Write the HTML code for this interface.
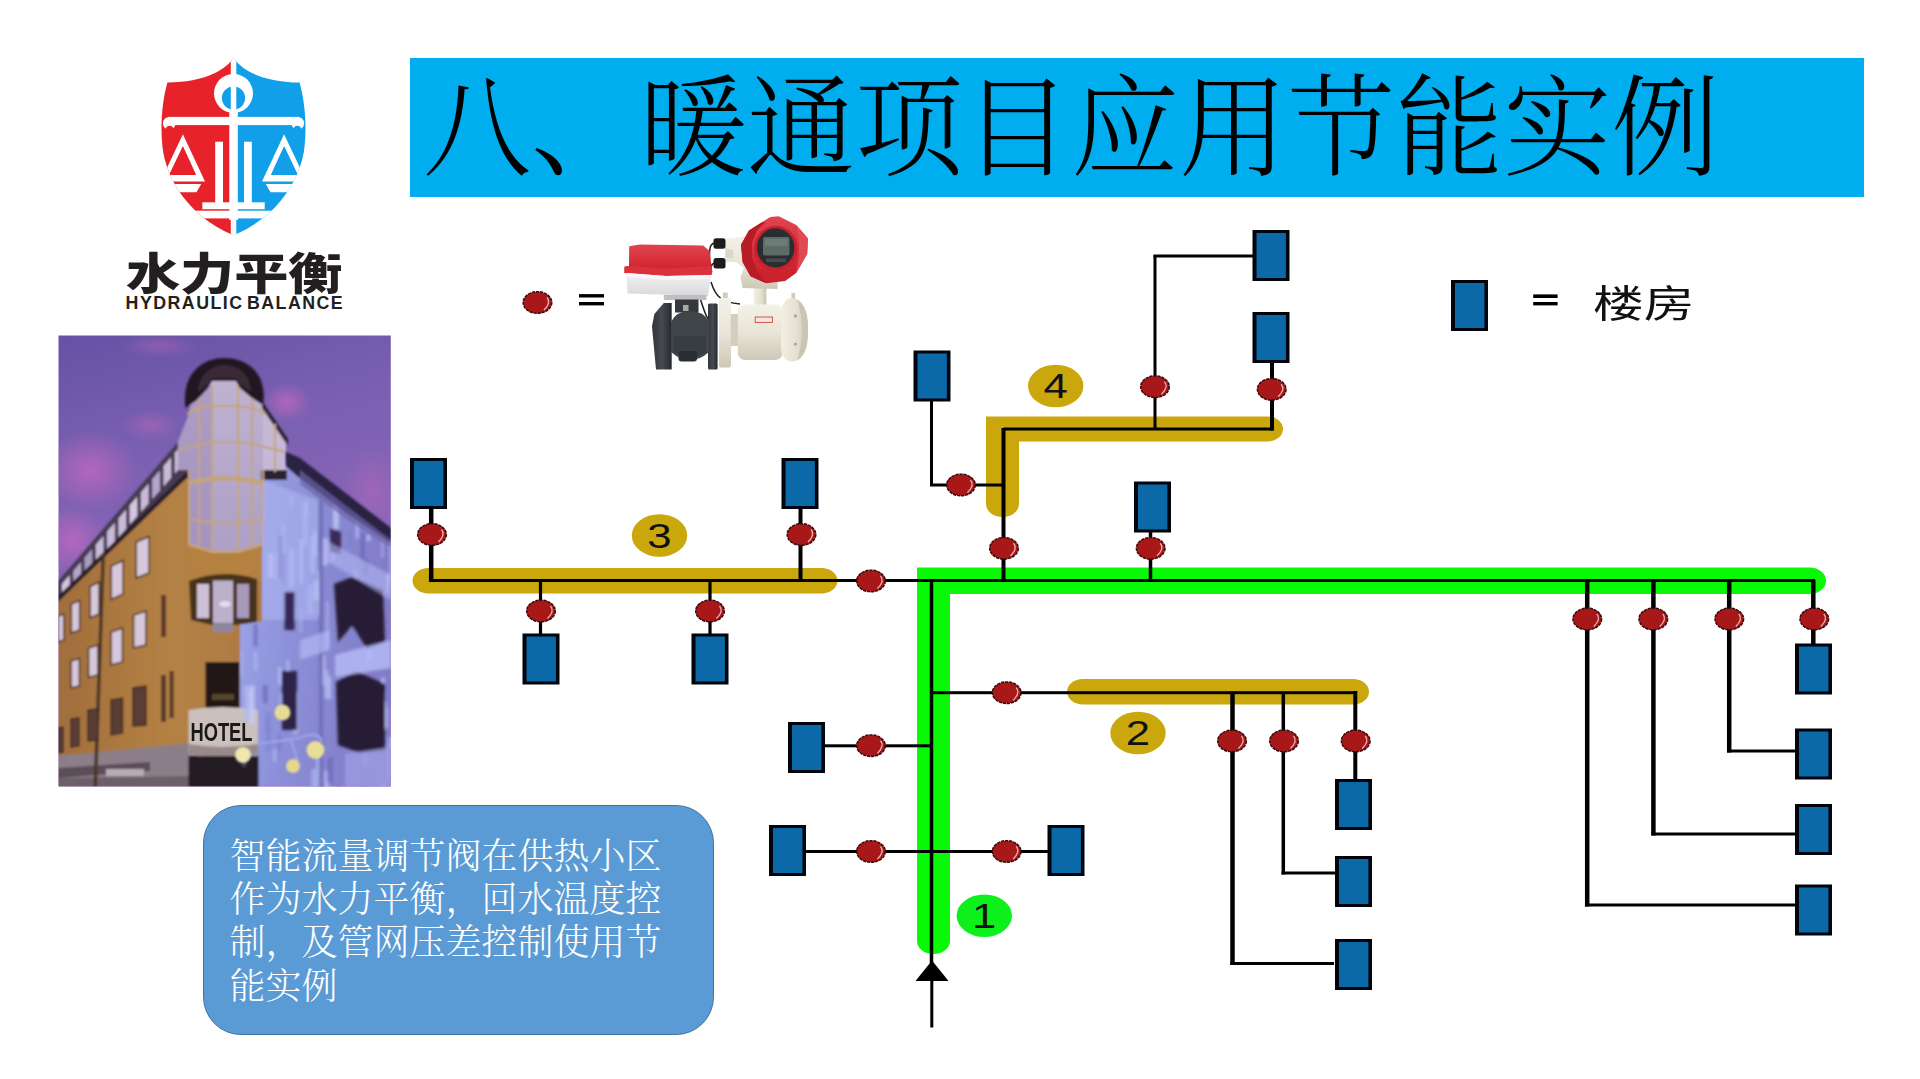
<!DOCTYPE html>
<html lang="zh-CN">
<head>
<meta charset="utf-8">
<title>八、暖通项目应用节能实例</title>
<style>
html,body{margin:0;padding:0;background:#fff;}
body{width:1920px;height:1079px;position:relative;overflow:hidden;font-family:"Liberation Sans","Noto Sans CJK SC",sans-serif;}
#titlebar{position:absolute;left:410px;top:58px;width:1453.6px;height:139.4px;background:#00aeef;}
#title{position:absolute;left:422.7px;top:54.6px;height:150px;line-height:150px;white-space:nowrap;font-family:"Liberation Serif","Noto Serif CJK SC",serif;font-weight:300;font-size:110px;color:#000;transform-origin:0 50%;transform:scaleX(0.982);letter-spacing:0px;}
#note{position:absolute;left:202.6px;top:805px;width:509.4px;height:228.2px;border:1px solid #44739f;border-radius:38px;background:#5b9bd5;}
#notetext{position:absolute;left:229.5px;top:835.6px;width:480px;font-family:"Liberation Serif","Noto Serif CJK SC",serif;font-weight:300;font-size:36px;line-height:43.4px;color:#fff;white-space:nowrap;}
#legend{position:absolute;left:1593px;top:278px;font-size:38px;line-height:52px;font-family:"Liberation Sans","Noto Sans CJK SC",sans-serif;color:#111;transform-origin:0 50%;transform:scaleX(1.335);white-space:nowrap;}
#logocn{position:absolute;left:125.7px;top:242.6px;font-family:"Liberation Sans","Noto Sans CJK SC",sans-serif;font-weight:900;font-size:44px;line-height:64px;color:#231f20;transform-origin:0 50%;transform:scaleX(1.23);white-space:nowrap;}
#logoen{position:absolute;left:125.6px;top:293.2px;font-family:"Liberation Sans",sans-serif;font-weight:bold;font-size:17.8px;line-height:20px;color:#231f20;white-space:nowrap;letter-spacing:1.47px;word-spacing:-3px;}
svg{position:absolute;left:0;top:0;}
</style>
</head>
<body>
<div id="titlebar"></div>
<div id="title">八、暖通项目应用节能实例</div>
<div id="note"></div>
<div id="notetext">智能流量调节阀在供热小区<br>作为水力平衡，回水温度控<br>制，及管网压差控制使用节<br>能实例</div>
<div id="legend">楼房</div>
<div id="logocn">水力平衡</div>
<div id="logoen">HYDRAULIC BALANCE</div>
<svg width="1920" height="1079" viewBox="0 0 1920 1079">
<g id="logo">
<defs><clipPath id="shieldclip"><path d="M233.5 57.5 C226 70 205 82 167.4 82.6 C162.5 100 159.8 125 162.6 148 C166 175 185 215 233.5 235.3 C282 215 301 175 304.4 148 C307.2 125 304.5 100 299.6 82.6 C262 82 241 70 233.5 57.5 Z"/></clipPath></defs>
<g clip-path="url(#shieldclip)">
<rect x="150" y="50" width="83.5" height="200" fill="#e8222a"/>
<rect x="233.5" y="50" width="90" height="200" fill="#119fe9"/>
<g fill="#fff">
<rect x="230.8" y="50" width="5.5" height="200"/>
<rect x="229.3" y="108" width="8.5" height="112"/>
<circle cx="233.5" cy="93.4" r="19.5"/>
<rect x="168" y="116.9" width="131" height="8.2"/>
<circle cx="169.2" cy="123.2" r="6.3"/><circle cx="297.8" cy="123.2" r="6.3"/>
<path fill-rule="evenodd" d="M182.9 134.2 L160.5 181.6 L205 181.6 Z M182.9 146.1 L169 175 L196.2 175 Z"/>
<path fill-rule="evenodd" d="M284.1 134.2 L306.5 181.6 L262 181.6 Z M284.1 146.1 L298 175 L270.8 175 Z"/>
<polygon points="159.5,184 201.2,184 196.5,192.3 159.5,192.3"/>
<polygon points="307.5,184 265.8,184 270.5,192.3 307.5,192.3"/>
<rect x="215.2" y="141.7" width="7.8" height="62"/>
<rect x="244" y="141.7" width="7.8" height="62"/>
<rect x="202.3" y="202.3" width="62.4" height="6.9"/>
<rect x="150" y="210.7" width="170" height="7.7"/>
</g>
<circle cx="169.6" cy="129.5" r="3.7" fill="#e8222a"/><circle cx="297.4" cy="129.5" r="3.7" fill="#119fe9"/>
<circle cx="233.5" cy="98" r="11.6" fill="#119fe9"/>
<rect x="230.8" y="80" width="5.5" height="40" fill="#fff"/>
</g>
</g>

<g id="hotel">
<defs>
<clipPath id="hclip"><rect x="58.5" y="335.5" width="332.3" height="451"/></clipPath>
<clipPath id="iceclip"><polygon points="263,479 286,476 286,462 391,541 391,787 238,787 238,622 261,622"/></clipPath>
<linearGradient id="hsky" x1="0" y1="0" x2="0.2" y2="1"><stop offset="0" stop-color="#6552a4"/><stop offset="0.3" stop-color="#7b60b2"/><stop offset="0.65" stop-color="#8b66b8"/><stop offset="1" stop-color="#9a6cb8"/></linearGradient>
<radialGradient id="hpink"><stop offset="0" stop-color="#c068be" stop-opacity="0.8"/><stop offset="1" stop-color="#c068be" stop-opacity="0"/></radialGradient>
<linearGradient id="hwall" x1="0" y1="0" x2="1" y2="0"><stop offset="0" stop-color="#a16e3c"/><stop offset="0.55" stop-color="#b48145"/><stop offset="1" stop-color="#ac7a43"/></linearGradient>
<linearGradient id="hice" x1="0" y1="0" x2="1" y2="0.25"><stop offset="0" stop-color="#a0a7ea"/><stop offset="0.45" stop-color="#8c90d8"/><stop offset="1" stop-color="#837cc8"/></linearGradient>
<linearGradient id="hglass" x1="0" y1="0" x2="0" y2="1"><stop offset="0" stop-color="#c0b2d0"/><stop offset="1" stop-color="#ad9fc6"/></linearGradient>
<filter id="hblur" x="-2%" y="-2%" width="104%" height="104%"><feGaussianBlur stdDeviation="0.8"/></filter>
<filter id="hblur2" x="-20%" y="-20%" width="140%" height="140%"><feGaussianBlur stdDeviation="1.8"/></filter>
</defs>
<g clip-path="url(#hclip)">
<rect x="58" y="335" width="334" height="452" fill="url(#hsky)"/>
<ellipse cx="90" cy="470" rx="48" ry="40" fill="url(#hpink)"/>
<ellipse cx="72" cy="540" rx="36" ry="34" fill="url(#hpink)"/>
<ellipse cx="150" cy="425" rx="30" ry="16" fill="url(#hpink)" opacity="0.6"/>
<ellipse cx="287" cy="402" rx="24" ry="20" fill="url(#hpink)" opacity="0.95"/>
<ellipse cx="160" cy="346" rx="40" ry="12" fill="url(#hpink)" opacity="0.5"/>
<ellipse cx="372" cy="490" rx="30" ry="44" fill="url(#hpink)" opacity="0.55"/>
<g filter="url(#hblur)">
<polygon points="263,479 286,476 286,462 391,541 391,787 238,787 238,622 261,622" fill="url(#hice)"/>
<polygon points="58,581 69.5,568 178,442 188.6,430 188.6,476 58,599" fill="#463a52"/>
<polygon points="62.0,584.0 69.7,575.1 69.7,592.3 62.0,601.0" fill="#d4c8e0"/>
<polygon points="73.3,570.9 81.0,562.0 81.0,579.6 73.3,588.3" fill="#b4a6ca"/>
<polygon points="84.5,557.8 92.2,548.9 92.2,566.9 84.5,575.5" fill="#a99bc0"/>
<polygon points="95.8,544.7 103.5,535.8 103.5,554.1 95.8,562.8" fill="#c9bbd8"/>
<polygon points="107.1,531.6 114.8,522.7 114.8,541.4 107.1,550.1" fill="#c9bbd8"/>
<polygon points="118.4,518.5 126.1,509.6 126.1,528.7 118.4,537.4" fill="#c9bbd8"/>
<polygon points="129.6,505.5 137.3,496.5 137.3,516.0 129.6,524.6" fill="#d4c8e0"/>
<polygon points="140.9,492.4 148.6,483.4 148.6,503.2 140.9,511.9" fill="#c9bbd8"/>
<polygon points="152.2,479.3 159.9,470.3 159.9,490.5 152.2,499.2" fill="#b4a6ca"/>
<polygon points="163.5,466.2 171.1,457.3 171.1,477.8 163.5,486.5" fill="#c9bbd8"/>
<polygon points="174.7,453.1 182.4,444.2 182.4,465.0 174.7,473.7" fill="#c9bbd8"/>
<polygon points="58,599 186.3,475.5 189,475.5 189,545 262,545 262,622 240,622 240,752 58,762" fill="url(#hwall)"/>
<polygon points="58,596 186.3,472.5 189,474 189,478 186.3,478.5 58,602" fill="#2a1e26"/>
<polygon points="58,756 190,743 190,787 58,787" fill="#8c7e88"/>
<polygon points="58,768 150,762 150,771 58,778" fill="#5c4e58"/>
<rect x="106" y="769" width="38" height="7" fill="#b8acb2"/>
<polygon points="58,778 190,776 190,787 58,787" fill="#6c6068"/>
<polygon points="101.5,556 105,553 97,787 93.5,787" fill="#4a3528"/>
<polygon points="188.6,415 192,398 200,384 212,380 236,380 250,384 260,396 263,405 286,441 286,472 263,472 263,545 240,552 210,552 189,545 189,470 178,470 178,442" fill="url(#hglass)"/>
<polygon points="188.6,415 192,398 200,386 211,385 211,552 189,545 189,470 178,470 178,442" fill="#9c8bbc" opacity="0.55"/>
<polygon points="263,405 286,441 286,472 263,472" fill="#c9bcd8" opacity="0.8"/>
<polygon points="261,470 287,470 287,480 261,480" fill="#2a2030"/>
<polygon points="262,401 288,439 288,446 262,408" fill="#2a2030"/>
<path d="M185.5 408 C181 372 204 358 224.3 358 C246 358 268 372 263 405 L252 398 L240 388 L236 381 L212 381 L208 388 L197 400 Z" fill="#241820"/>
<path d="M198 392 C199 374 212 365 224 365 C238 365 250 374 251 392 L240 384 L236 378 L212 378 L208 384 Z" fill="#3a2c34"/>
<g stroke="#c4a478" stroke-width="2" fill="none">
<path d="M212 386 V552 M238 386 V552 M199 398 V548 M252 398 V548 M189 470 V545 M263 470 V545 M275 424 V472"/>
<path d="M179 450 L199 444 L212 442 H238 L252 444 L286 452"/>
<path d="M187 414 L199 408 L212 406 H238 L252 408 L266 414"/>
<path d="M189 483 L212 478.5 H238 L263 483" stroke-width="4.5"/>
<path d="M189 519 L212 523 H238 L263 519"/>
<path d="M189 545 L212 552 H238 L263 545" stroke-width="3"/>
</g>
<polygon points="189,546 212,553 238,553 262,546 262,581 189,581" fill="#b4813f"/>
<path d="M189 581 Q222 568 257 579 L257 622 L236 625 L212 625 L191 620 Z" fill="#46301f"/>
<rect x="197" y="584" width="12" height="34" fill="#cdbfd4"/><rect x="213" y="580.5" width="20" height="43" fill="#bcb0ca"/><rect x="237" y="584" width="12" height="34" fill="#a999ba"/><rect x="213" y="624" width="20" height="8" fill="#8f86a0"/>
<ellipse cx="225" cy="604" rx="6" ry="3" fill="#efe6f2" opacity="0.8"/>
<rect x="205.5" y="662" width="34" height="46" fill="#241618"/>
<rect x="212" y="694" width="22" height="6" fill="#6a5a30" opacity="0.7"/>
<path d="M188.5 710 Q222 704 258 710 L258 754 Q222 760 188.5 754 Z" fill="#cbc0bb"/>
<path d="M188.5 744 Q222 750 258 744 L258 754 Q222 760 188.5 754 Z" fill="#978a88"/>
<rect x="188.5" y="756" width="70" height="31" fill="#231b20"/>
<g fill="#d6c7da" stroke="#4a3326" stroke-width="1.6">
<polygon points="71.3,604 79.7,600.4 79.7,630 71.3,633"/>
<polygon points="71,661 79.5,658.5 79.5,686 71,688"/>
<polygon points="90,586.5 99.2,582 99.2,614 90,618"/>
<polygon points="88.5,648 98,645 98,675 88.5,677.5"/>
<polygon points="111.2,566 123.2,560.5 123.2,594 111.2,599.4"/>
<polygon points="111,632 122.5,628 122.5,662 111,665"/>
<polygon points="136.2,542 149.2,536.4 149.2,573 136.2,578"/>
<polygon points="133.5,615 146,611 146,645 133.5,648"/>
<polygon points="58,616 64,614 64,640 58,642"/>
</g>
<g fill="#5a3c36" stroke="#3e2920" stroke-width="1.4">
<polygon points="71,719 79,718 79,746 71,747"/>
<polygon points="88,710 98,709 98,740 88,741"/>
<polygon points="111,700 122.5,698 122.5,733 111,735"/>
<polygon points="133,688 146,686 146,725 133,726"/>
<polygon points="58,728 63,727 63,752 58,753"/>
</g>
<g fill="#5b3a2c"><rect x="161.2" y="595" width="4.8" height="42"/><rect x="161" y="675" width="5" height="47"/><rect x="169.5" y="671" width="4.2" height="47"/></g>
</g>
<g clip-path="url(#iceclip)"><g filter="url(#hblur2)">
<rect x="304.3" y="501.4" width="3.7" height="13.3" fill="#b0b8f2" opacity="0.75"/>
<rect x="324.5" y="770.9" width="4.3" height="32.7" fill="#b9c2f6" opacity="0.75"/>
<rect x="326.3" y="601.8" width="2.2" height="45.1" fill="#b0b8f2" opacity="0.75"/>
<rect x="320.7" y="655.3" width="4.7" height="30.2" fill="#b9c2f6" opacity="0.75"/>
<rect x="327.0" y="676.1" width="4.2" height="23.4" fill="#b9c2f6" opacity="0.75"/>
<rect x="324.3" y="670.0" width="4.1" height="27.9" fill="#b0b8f2" opacity="0.75"/>
<rect x="286.1" y="659.8" width="3.2" height="26.3" fill="#b0b8f2" opacity="0.75"/>
<rect x="265.5" y="719.4" width="3.2" height="12.9" fill="#7a7cc8" opacity="0.75"/>
<rect x="371.9" y="703.9" width="5.9" height="20.4" fill="#b9c2f6" opacity="0.75"/>
<rect x="316.3" y="530.6" width="5.7" height="22.3" fill="#7a7cc8" opacity="0.75"/>
<rect x="244.0" y="685.1" width="4.3" height="37.5" fill="#b0b8f2" opacity="0.75"/>
<rect x="286.0" y="693.5" width="4.3" height="31.4" fill="#7a7cc8" opacity="0.75"/>
<rect x="279.3" y="694.0" width="4.9" height="12.3" fill="#aab2ee" opacity="0.75"/>
<rect x="337.0" y="784.9" width="3.1" height="39.6" fill="#7a7cc8" opacity="0.75"/>
<rect x="373.7" y="586.5" width="3.4" height="43.9" fill="#6c6abc" opacity="0.75"/>
<rect x="355.5" y="519.7" width="3.6" height="18.9" fill="#b0b8f2" opacity="0.75"/>
<rect x="314.0" y="531.1" width="3.1" height="24.5" fill="#c4ccfa" opacity="0.75"/>
<rect x="363.3" y="745.2" width="3.7" height="20.0" fill="#aab2ee" opacity="0.75"/>
<rect x="342.5" y="596.8" width="2.3" height="18.3" fill="#c4ccfa" opacity="0.75"/>
<rect x="273.5" y="551.6" width="4.4" height="27.5" fill="#aab2ee" opacity="0.75"/>
<rect x="281.1" y="524.7" width="4.4" height="29.2" fill="#aab2ee" opacity="0.75"/>
<rect x="383.8" y="692.0" width="4.5" height="28.6" fill="#8086d0" opacity="0.75"/>
<rect x="351.2" y="620.2" width="5.8" height="41.4" fill="#8086d0" opacity="0.75"/>
<rect x="360.1" y="600.5" width="2.4" height="24.4" fill="#8086d0" opacity="0.75"/>
<rect x="299.3" y="538.5" width="3.8" height="45.4" fill="#b9c2f6" opacity="0.75"/>
<rect x="290.0" y="496.1" width="2.6" height="10.0" fill="#b9c2f6" opacity="0.75"/>
<rect x="383.2" y="668.4" width="2.8" height="12.5" fill="#7a7cc8" opacity="0.75"/>
<rect x="291.2" y="591.8" width="5.4" height="14.4" fill="#7a7cc8" opacity="0.75"/>
<rect x="311.5" y="575.7" width="5.0" height="15.2" fill="#8086d0" opacity="0.75"/>
<rect x="278.5" y="734.5" width="2.1" height="15.8" fill="#6c6abc" opacity="0.75"/>
<rect x="293.3" y="691.9" width="5.0" height="42.9" fill="#aab2ee" opacity="0.75"/>
<rect x="387.7" y="745.0" width="3.0" height="35.1" fill="#aab2ee" opacity="0.75"/>
<rect x="377.0" y="589.2" width="4.2" height="18.0" fill="#6c6abc" opacity="0.75"/>
<rect x="288.4" y="548.5" width="5.9" height="39.2" fill="#b0b8f2" opacity="0.75"/>
<rect x="267.9" y="553.5" width="5.2" height="24.4" fill="#c4ccfa" opacity="0.75"/>
<rect x="317.2" y="589.2" width="2.1" height="11.0" fill="#aab2ee" opacity="0.75"/>
<rect x="310.3" y="539.4" width="3.4" height="31.8" fill="#b0b8f2" opacity="0.75"/>
<rect x="381.4" y="783.3" width="3.5" height="44.4" fill="#c4ccfa" opacity="0.75"/>
<rect x="253.6" y="624.3" width="3.9" height="22.2" fill="#6c6abc" opacity="0.75"/>
<rect x="366.6" y="627.2" width="5.2" height="33.5" fill="#b9c2f6" opacity="0.75"/>
<rect x="365.7" y="516.8" width="4.8" height="24.0" fill="#c4ccfa" opacity="0.75"/>
<rect x="311.1" y="534.8" width="3.3" height="38.4" fill="#b0b8f2" opacity="0.75"/>
<rect x="382.8" y="701.6" width="5.0" height="26.7" fill="#b9c2f6" opacity="0.75"/>
<rect x="348.9" y="532.2" width="2.6" height="14.6" fill="#7a7cc8" opacity="0.75"/>
<rect x="361.4" y="524.9" width="5.9" height="39.8" fill="#8086d0" opacity="0.75"/>
<rect x="381.4" y="527.9" width="2.1" height="29.7" fill="#b0b8f2" opacity="0.75"/>
<rect x="386.5" y="679.5" width="5.7" height="29.0" fill="#7a7cc8" opacity="0.75"/>
<rect x="388.9" y="539.8" width="2.1" height="41.5" fill="#c4ccfa" opacity="0.75"/>
<rect x="282.8" y="553.8" width="3.0" height="31.1" fill="#7a7cc8" opacity="0.75"/>
<rect x="365.6" y="498.7" width="5.6" height="36.6" fill="#8086d0" opacity="0.75"/>
<rect x="327.3" y="757.6" width="5.7" height="25.1" fill="#6c6abc" opacity="0.75"/>
<rect x="316.1" y="748.0" width="4.4" height="38.0" fill="#b0b8f2" opacity="0.75"/>
<rect x="360.3" y="532.9" width="4.9" height="27.0" fill="#6c6abc" opacity="0.75"/>
<rect x="247.4" y="689.5" width="3.9" height="29.1" fill="#b0b8f2" opacity="0.75"/>
<rect x="254.2" y="652.0" width="3.1" height="18.9" fill="#b0b8f2" opacity="0.75"/>
<rect x="242.3" y="754.5" width="3.3" height="12.3" fill="#6c6abc" opacity="0.75"/>
<rect x="330.7" y="541.2" width="4.0" height="20.0" fill="#b0b8f2" opacity="0.75"/>
<rect x="311.1" y="769.0" width="5.5" height="35.2" fill="#aab2ee" opacity="0.75"/>
<rect x="379.2" y="754.1" width="3.8" height="17.3" fill="#7a7cc8" opacity="0.75"/>
<rect x="249.2" y="685.5" width="5.6" height="38.2" fill="#c4ccfa" opacity="0.75"/>
<rect x="381.7" y="677.5" width="3.0" height="23.2" fill="#c4ccfa" opacity="0.75"/>
<rect x="386.0" y="547.4" width="3.6" height="44.3" fill="#7a7cc8" opacity="0.75"/>
<rect x="262.9" y="685.0" width="4.8" height="18.1" fill="#6c6abc" opacity="0.75"/>
<rect x="299.8" y="609.3" width="2.4" height="22.8" fill="#aab2ee" opacity="0.75"/>
<rect x="241.0" y="650.1" width="2.1" height="25.9" fill="#aab2ee" opacity="0.75"/>
<rect x="317.2" y="570.7" width="2.5" height="44.6" fill="#b0b8f2" opacity="0.75"/>
<rect x="273.0" y="749.1" width="3.1" height="13.0" fill="#b0b8f2" opacity="0.75"/>
<rect x="265.8" y="712.0" width="5.4" height="39.5" fill="#8086d0" opacity="0.75"/>
<rect x="363.3" y="559.4" width="5.7" height="15.4" fill="#6c6abc" opacity="0.75"/>
<rect x="313.7" y="580.4" width="5.2" height="20.0" fill="#c4ccfa" opacity="0.75"/>
<rect x="303.1" y="502.2" width="4.5" height="43.8" fill="#b0b8f2" opacity="0.75"/>
<rect x="277.9" y="666.7" width="3.1" height="18.0" fill="#b9c2f6" opacity="0.75"/>
<rect x="307.4" y="584.1" width="5.7" height="29.9" fill="#aab2ee" opacity="0.75"/>
<rect x="333.1" y="493.3" width="5.8" height="35.5" fill="#c4ccfa" opacity="0.75"/>
<rect x="278.1" y="535.6" width="4.5" height="43.6" fill="#6c6abc" opacity="0.75"/>
<rect x="354.2" y="569.0" width="2.7" height="28.0" fill="#aab2ee" opacity="0.75"/>
<rect x="361.0" y="785.3" width="2.1" height="11.3" fill="#6c6abc" opacity="0.75"/>
<rect x="322.3" y="538.2" width="5.7" height="27.1" fill="#b9c2f6" opacity="0.75"/>
<rect x="338.7" y="679.6" width="4.2" height="33.6" fill="#7a7cc8" opacity="0.75"/>
<rect x="386.5" y="574.5" width="2.9" height="17.7" fill="#c4ccfa" opacity="0.75"/>
<rect x="365.3" y="697.0" width="3.6" height="32.9" fill="#aab2ee" opacity="0.75"/>
<rect x="388.2" y="737.0" width="4.5" height="10.5" fill="#aab2ee" opacity="0.75"/>
<path d="M262 480 L318 500 L318 620 L262 620 Z" fill="#aeb6f2" opacity="0.55"/>
<rect x="319" y="500" width="4" height="287" fill="#6a68b4" opacity="0.8"/>
<path d="M330 528 L341 532 L341 554 L330 552 Z" fill="#3a2c58"/>
<path d="M334 584 L352 577 L383 590 L385 642 L368 650 L352 626 L338 642 Z" fill="#261a36"/>
<path d="M336 682 L356 671 L385 684 L385 751 L360 753 L338 745 Z" fill="#261a36"/>
<rect x="284.5" y="592" width="10" height="38" fill="#352852"/>
<rect x="282" y="671" width="15" height="59" fill="#2e2248"/>
<path d="M335 655 L391 640 L391 668 L335 677 Z" fill="#b4b8f4" opacity="0.85"/>
<path d="M300 640 L330 630 L330 650 L300 660 Z" fill="#b4b8f4" opacity="0.7"/>
<path d="M325 560 L391 600 L391 575 L325 540 Z" fill="#b0b6f2" opacity="0.6"/>
<path d="M345 754 L391 747 L391 787 L345 787 Z" fill="#9c9ce2" opacity="0.8"/>
</g></g>
<g filter="url(#hblur)"><polygon points="286,452 300,458 391,528 391,543 345,512 300,478 286,466" fill="#2c2242"/>
<polygon points="300,470 345,505 391,540 391,548 345,518 300,484" fill="#6c64a8" opacity="0.7"/></g>
<g filter="url(#hblur)">
<path d="M258 744 L300 738 M290 740 Q300 760 296 772 M300 738 Q318 730 322 742" stroke="#9aa0e4" stroke-width="3" fill="none"/>
<circle cx="282.5" cy="712.5" r="8" fill="#e6dc96"/>
<circle cx="243" cy="755" r="8" fill="#efe6b0"/>
<circle cx="315.5" cy="750" r="9" fill="#e8de98"/>
<circle cx="293" cy="766" r="7" fill="#e4d88e"/>
</g>
<text x="190.5" y="741" font-family="'Liberation Sans',sans-serif" font-weight="bold" font-size="26" fill="#1d1818" textLength="62" lengthAdjust="spacingAndGlyphs">HOTEL</text>
</g>
</g>
<g id="device">
<defs>
<linearGradient id="dvw" x1="0" y1="0" x2="0" y2="1"><stop offset="0" stop-color="#f3f1e8"/><stop offset="0.5" stop-color="#e9e5d7"/><stop offset="1" stop-color="#cdc8b6"/></linearGradient>
<linearGradient id="dvw2" x1="0" y1="0" x2="1" y2="0"><stop offset="0" stop-color="#f1eee3"/><stop offset="0.6" stop-color="#e4e0d0"/><stop offset="1" stop-color="#c9c4b2"/></linearGradient>
<linearGradient id="dvr" x1="0" y1="0" x2="0" y2="1"><stop offset="0" stop-color="#e04550"/><stop offset="0.6" stop-color="#d42a36"/><stop offset="1" stop-color="#c71f2b"/></linearGradient>
<linearGradient id="dvk" x1="0" y1="0" x2="1" y2="0"><stop offset="0" stop-color="#30343a"/><stop offset="0.5" stop-color="#474b52"/><stop offset="1" stop-color="#25282d"/></linearGradient>
<linearGradient id="dvg" x1="0" y1="0" x2="0" y2="1"><stop offset="0" stop-color="#f2f2f4"/><stop offset="1" stop-color="#d9d9dc"/></linearGradient>
<filter id="dvb" x="-5%" y="-5%" width="110%" height="110%"><feGaussianBlur stdDeviation="0.6"/></filter>
</defs>
<g filter="url(#dvb)">
<!-- cables -->
<path d="M714 243 C706 246 712 262 708 268 M714 263 C708 266 712 274 709 280 M711 282 C716 298 722 302 740 304 M700 298 C704 310 706 318 710 322" fill="none" stroke="#1e1e20" stroke-width="1.5"/>
<!-- stem -->
<rect x="753.6" y="284" width="12.8" height="23" fill="url(#dvw2)"/>
<!-- neck housing -->
<polygon points="725.3,238.6 746,236.5 760,240 778,262 777.5,289 742.6,288 740.5,277 744,268 736,262 725.3,262" fill="url(#dvw)"/>
<polygon points="725.3,248 733,250 733,258 725.3,258" fill="#dcd8c8"/>
<!-- glands -->
<rect x="713.5" y="238.2" width="12" height="10.5" rx="2.5" fill="#1c1c1f"/>
<rect x="713.5" y="258" width="12" height="10.5" rx="2.5" fill="#1c1c1f"/>
<!-- display head -->
<polygon points="770.2,217.1 778.8,216.3 796.2,225 802.5,232 808,238.4 807.2,254.1 796.2,273 785.1,280.9 766.2,283.3 750.5,276.2 742.6,262 741,244.7 748.9,230.5 761.5,222.6" fill="url(#dvr)"/>
<polygon points="761.5,222.6 748.9,230.5 741,244.7 742.6,262 750.5,276.2 766.2,283.3 758,272 752,258 752,242 757,230 766,222" fill="#b81c28"/>
<polygon points="796.2,225 808,238.4 807.2,254.1 796.2,273 799,254 799,240" fill="#e2505a" opacity="0.8"/>
<ellipse cx="776" cy="248.2" rx="21.5" ry="22.5" fill="#c6202c"/>
<ellipse cx="775.7" cy="247.8" rx="18.7" ry="19.6" fill="#2a2e32"/>
<rect x="763" y="237" width="26.5" height="18.5" rx="2" fill="#5d6d66"/>
<rect x="765" y="239" width="22.5" height="7" fill="#6f8078" opacity="0.8"/>
<rect x="766" y="258.5" width="20" height="3.6" fill="#454b50"/>
<!-- actuator -->
<polygon points="629.2,246.2 640,244.6 703.2,245.4 709.5,251 711.5,266 712.3,272 711,275.5 666,276.5 624.5,273 624.5,266.7 629,266" fill="url(#dvr)"/>
<polygon points="624.5,266.7 629,266 666,268.5 711.5,266 712.3,272 711,275.5 666,276.5 624.5,273" fill="#d9333e"/>
<polygon points="626,273 666,276 711,275 708,296 627.6,293.5" fill="url(#dvg)"/>
<polygon points="626,273 666,276 711,275 710.5,279 666,280 626.5,277" fill="#f6f6f8"/>
<rect x="663.8" y="295" width="42.6" height="5" fill="#bfbfc3"/>
<!-- valve -->
<rect x="675" y="299.5" width="23.5" height="13" fill="#34373c"/>
<rect x="683" y="305" width="5.5" height="6" fill="#a9a9a2"/>
<polygon points="654.4,314 663.8,303 671.7,303 671.7,369.5 656,369.5 652,326.6" fill="url(#dvk)"/>
<rect x="708" y="303.5" width="9.6" height="66" rx="1.5" fill="url(#dvk)"/>
<path d="M671 322 Q676 311 690 311 Q704 311 709 322 L709 352 Q700 360 690 360 Q680 360 671 352 Z" fill="#41444a"/>
<path d="M674 336 H706 V352 Q690 362 674 352 Z" fill="#393c42"/>
<rect x="678.5" y="351" width="18.5" height="10.5" rx="3" fill="#2b2e33"/>
<!-- flow meter -->
<rect x="722.9" y="292.5" width="4.8" height="7" fill="#cfcbbb"/>
<rect x="719" y="298" width="12" height="69.5" rx="2" fill="url(#dvw)"/>
<rect x="730.8" y="314" width="9" height="32" fill="#d3cebd"/>
<rect x="737.9" y="304.5" width="44.5" height="55.5" rx="7" fill="url(#dvw)"/>
<rect x="755.2" y="317" width="17.3" height="5.4" fill="#f2e6df" stroke="#d2453d" stroke-width="0.9"/>
<rect x="791.5" y="293" width="3.6" height="6" fill="#cfcbbb"/>
<path d="M781 312 Q782 299 792 298 Q803 298 807 316 Q809 330 807 344 Q803 361.5 792 361.5 Q782 361 781 348 Z" fill="url(#dvw2)"/>
<path d="M797 300 Q805 305 807 316 Q809 330 807 344 Q805 356 797 360.5 Q802 345 802 330 Q802 314 797 300 Z" fill="#cbc6b3"/>
<circle cx="795.5" cy="316" r="1.6" fill="#a9a493"/><circle cx="795.5" cy="344" r="1.6" fill="#a9a493"/>
</g>
</g>

<g id="eqs" fill="#000">
<rect x="579" y="294.1" width="25" height="3.4"/><rect x="579" y="302" width="25" height="3.4"/>
<rect x="1533.2" y="294.4" width="24.4" height="3.6"/><rect x="1533.2" y="302" width="24.4" height="3.4"/>
</g>
<g id="diagram">
<rect x="412.5" y="568" width="425" height="25.5" rx="16" ry="12.75" fill="#c9a70d"/>
<rect x="1067" y="679" width="302" height="25.5" rx="16" ry="12.75" fill="#c9a70d"/>
<path d="M986 416.5 H1268 a15 12.5 0 0 1 0 25 H1019 V504 a16.5 13 0 0 1 -33 0 Z" fill="#c9a70d"/>
<path d="M917 567.5 H1810 a16 13.25 0 0 1 0 26.5 H950 V941 a16.5 13 0 0 1 -33 0 Z" fill="#08f808"/>
<rect x="431" y="579.0" width="1384" height="3" fill="#000"/>
<rect x="929.75" y="580.5" width="3.5" height="384.5" fill="#000"/>
<polygon points="932,960.5 948.5,981 915.5,981" fill="#000"/>
<rect x="930.3" y="980" width="3" height="47.5" fill="#000"/>
<rect x="428.95" y="505" width="4.5" height="77" fill="#000"/>
<rect x="798.5" y="505" width="4" height="77" fill="#000"/>
<rect x="538.9" y="580" width="3.2" height="56" fill="#000"/>
<rect x="708.4" y="580" width="3.2" height="56" fill="#000"/>
<rect x="1001.5" y="428" width="4" height="152" fill="#000"/>
<rect x="1003.5" y="427.5" width="270.0" height="3" fill="#000"/>
<rect x="1153.5" y="255" width="3" height="174" fill="#000"/>
<rect x="1153.5" y="254.5" width="100.5" height="3" fill="#000"/>
<rect x="1270.0" y="360" width="4" height="70.5" fill="#000"/>
<rect x="930.0" y="398" width="3" height="87" fill="#000"/>
<rect x="930" y="483.5" width="73.5" height="3" fill="#000"/>
<rect x="1148.75" y="530" width="3.5" height="50" fill="#000"/>
<rect x="931.5" y="691.2" width="425.5" height="3" fill="#000"/>
<rect x="1230.25" y="692" width="4.5" height="272.5" fill="#000"/>
<rect x="1230.3" y="962.0" width="103.70000000000005" height="3" fill="#000"/>
<rect x="1281.55" y="692" width="3.5" height="182.5" fill="#000"/>
<rect x="1281.5" y="871.5" width="54.5" height="3" fill="#000"/>
<rect x="1353.3" y="691" width="4" height="90" fill="#000"/>
<rect x="823" y="744.3" width="108.5" height="3" fill="#000"/>
<rect x="804" y="850.0" width="245" height="3" fill="#000"/>
<rect x="1584.95" y="580" width="4.5" height="326.5" fill="#000"/>
<rect x="1585" y="903.5" width="211" height="3" fill="#000"/>
<rect x="1651.15" y="580" width="4.5" height="255.5" fill="#000"/>
<rect x="1651.4" y="832.5" width="144.5999999999999" height="3" fill="#000"/>
<rect x="1726.95" y="580" width="4.5" height="172.5" fill="#000"/>
<rect x="1727" y="749.5" width="69" height="3" fill="#000"/>
<rect x="1811.05" y="580" width="4.5" height="65" fill="#000"/>
<rect x="410" y="458" width="37" height="51" fill="#00040c"/><rect x="414" y="461" width="29.4" height="45" fill="#0a69a6"/>
<rect x="781.5" y="458" width="37" height="51" fill="#00040c"/><rect x="785.5" y="461" width="29.4" height="45" fill="#0a69a6"/>
<rect x="522.5" y="633.5" width="37" height="51" fill="#00040c"/><rect x="526.5" y="636.5" width="29.4" height="45" fill="#0a69a6"/>
<rect x="691.5" y="633.5" width="37" height="51" fill="#00040c"/><rect x="695.5" y="636.5" width="29.4" height="45" fill="#0a69a6"/>
<rect x="913.5" y="350.5" width="37" height="51" fill="#00040c"/><rect x="917.5" y="353.5" width="29.4" height="45" fill="#0a69a6"/>
<rect x="1252.5" y="230" width="37" height="51" fill="#00040c"/><rect x="1256.5" y="233" width="29.4" height="45" fill="#0a69a6"/>
<rect x="1252.5" y="312" width="37" height="51" fill="#00040c"/><rect x="1256.5" y="315" width="29.4" height="45" fill="#0a69a6"/>
<rect x="1451" y="280" width="37" height="51" fill="#00040c"/><rect x="1455" y="283" width="29.4" height="45" fill="#0a69a6"/>
<rect x="1134" y="481.5" width="37" height="51" fill="#00040c"/><rect x="1138" y="484.5" width="29.4" height="45" fill="#0a69a6"/>
<rect x="788" y="722" width="37" height="51" fill="#00040c"/><rect x="792" y="725" width="29.4" height="45" fill="#0a69a6"/>
<rect x="769" y="825" width="37" height="51" fill="#00040c"/><rect x="773" y="828" width="29.4" height="45" fill="#0a69a6"/>
<rect x="1047.5" y="825" width="37" height="51" fill="#00040c"/><rect x="1051.5" y="828" width="29.4" height="45" fill="#0a69a6"/>
<rect x="1335" y="779" width="37" height="51" fill="#00040c"/><rect x="1339" y="782" width="29.4" height="45" fill="#0a69a6"/>
<rect x="1335" y="856" width="37" height="51" fill="#00040c"/><rect x="1339" y="859" width="29.4" height="45" fill="#0a69a6"/>
<rect x="1335" y="939" width="37" height="51" fill="#00040c"/><rect x="1339" y="942" width="29.4" height="45" fill="#0a69a6"/>
<rect x="1795" y="643.5" width="37" height="51" fill="#00040c"/><rect x="1799" y="646.5" width="29.4" height="45" fill="#0a69a6"/>
<rect x="1795" y="728.5" width="37" height="51" fill="#00040c"/><rect x="1799" y="731.5" width="29.4" height="45" fill="#0a69a6"/>
<rect x="1795" y="804" width="37" height="51" fill="#00040c"/><rect x="1799" y="807" width="29.4" height="45" fill="#0a69a6"/>
<rect x="1795" y="884.5" width="37" height="51" fill="#00040c"/><rect x="1799" y="887.5" width="29.4" height="45" fill="#0a69a6"/>
<ellipse cx="432" cy="534.5" rx="14.3" ry="10.8" fill="#a91818" stroke="#3a0909" stroke-width="1.5" stroke-dasharray="3.2 0.9"/><path d="M441.5 529.5 q4.5 5 -3 12.5" fill="none" stroke="#f2cfcf" stroke-width="1.3" opacity="0.85"/>
<ellipse cx="801.5" cy="534.5" rx="14.3" ry="10.8" fill="#a91818" stroke="#3a0909" stroke-width="1.5" stroke-dasharray="3.2 0.9"/><path d="M811.0 529.5 q4.5 5 -3 12.5" fill="none" stroke="#f2cfcf" stroke-width="1.3" opacity="0.85"/>
<ellipse cx="541" cy="611" rx="14.3" ry="10.8" fill="#a91818" stroke="#3a0909" stroke-width="1.5" stroke-dasharray="3.2 0.9"/><path d="M550.5 606 q4.5 5 -3 12.5" fill="none" stroke="#f2cfcf" stroke-width="1.3" opacity="0.85"/>
<ellipse cx="710" cy="611" rx="14.3" ry="10.8" fill="#a91818" stroke="#3a0909" stroke-width="1.5" stroke-dasharray="3.2 0.9"/><path d="M719.5 606 q4.5 5 -3 12.5" fill="none" stroke="#f2cfcf" stroke-width="1.3" opacity="0.85"/>
<ellipse cx="871" cy="581" rx="14.3" ry="10.8" fill="#a91818" stroke="#3a0909" stroke-width="1.5" stroke-dasharray="3.2 0.9"/><path d="M880.5 576 q4.5 5 -3 12.5" fill="none" stroke="#f2cfcf" stroke-width="1.3" opacity="0.85"/>
<ellipse cx="961" cy="485" rx="14.3" ry="10.8" fill="#a91818" stroke="#3a0909" stroke-width="1.5" stroke-dasharray="3.2 0.9"/><path d="M970.5 480 q4.5 5 -3 12.5" fill="none" stroke="#f2cfcf" stroke-width="1.3" opacity="0.85"/>
<ellipse cx="1004" cy="548.3" rx="14.3" ry="10.8" fill="#a91818" stroke="#3a0909" stroke-width="1.5" stroke-dasharray="3.2 0.9"/><path d="M1013.5 543.3 q4.5 5 -3 12.5" fill="none" stroke="#f2cfcf" stroke-width="1.3" opacity="0.85"/>
<ellipse cx="1150.7" cy="548.3" rx="14.3" ry="10.8" fill="#a91818" stroke="#3a0909" stroke-width="1.5" stroke-dasharray="3.2 0.9"/><path d="M1160.2 543.3 q4.5 5 -3 12.5" fill="none" stroke="#f2cfcf" stroke-width="1.3" opacity="0.85"/>
<ellipse cx="1155" cy="386.7" rx="14.3" ry="10.8" fill="#a91818" stroke="#3a0909" stroke-width="1.5" stroke-dasharray="3.2 0.9"/><path d="M1164.5 381.7 q4.5 5 -3 12.5" fill="none" stroke="#f2cfcf" stroke-width="1.3" opacity="0.85"/>
<ellipse cx="1271.7" cy="389.3" rx="14.3" ry="10.8" fill="#a91818" stroke="#3a0909" stroke-width="1.5" stroke-dasharray="3.2 0.9"/><path d="M1281.2 384.3 q4.5 5 -3 12.5" fill="none" stroke="#f2cfcf" stroke-width="1.3" opacity="0.85"/>
<ellipse cx="1006.7" cy="692.7" rx="14.3" ry="10.8" fill="#a91818" stroke="#3a0909" stroke-width="1.5" stroke-dasharray="3.2 0.9"/><path d="M1016.2 687.7 q4.5 5 -3 12.5" fill="none" stroke="#f2cfcf" stroke-width="1.3" opacity="0.85"/>
<ellipse cx="871" cy="745.7" rx="14.3" ry="10.8" fill="#a91818" stroke="#3a0909" stroke-width="1.5" stroke-dasharray="3.2 0.9"/><path d="M880.5 740.7 q4.5 5 -3 12.5" fill="none" stroke="#f2cfcf" stroke-width="1.3" opacity="0.85"/>
<ellipse cx="871" cy="851.5" rx="14.3" ry="10.8" fill="#a91818" stroke="#3a0909" stroke-width="1.5" stroke-dasharray="3.2 0.9"/><path d="M880.5 846.5 q4.5 5 -3 12.5" fill="none" stroke="#f2cfcf" stroke-width="1.3" opacity="0.85"/>
<ellipse cx="1006.7" cy="851.5" rx="14.3" ry="10.8" fill="#a91818" stroke="#3a0909" stroke-width="1.5" stroke-dasharray="3.2 0.9"/><path d="M1016.2 846.5 q4.5 5 -3 12.5" fill="none" stroke="#f2cfcf" stroke-width="1.3" opacity="0.85"/>
<ellipse cx="1232" cy="741" rx="14.3" ry="10.8" fill="#a91818" stroke="#3a0909" stroke-width="1.5" stroke-dasharray="3.2 0.9"/><path d="M1241.5 736 q4.5 5 -3 12.5" fill="none" stroke="#f2cfcf" stroke-width="1.3" opacity="0.85"/>
<ellipse cx="1284" cy="741" rx="14.3" ry="10.8" fill="#a91818" stroke="#3a0909" stroke-width="1.5" stroke-dasharray="3.2 0.9"/><path d="M1293.5 736 q4.5 5 -3 12.5" fill="none" stroke="#f2cfcf" stroke-width="1.3" opacity="0.85"/>
<ellipse cx="1355.7" cy="741" rx="14.3" ry="10.8" fill="#a91818" stroke="#3a0909" stroke-width="1.5" stroke-dasharray="3.2 0.9"/><path d="M1365.2 736 q4.5 5 -3 12.5" fill="none" stroke="#f2cfcf" stroke-width="1.3" opacity="0.85"/>
<ellipse cx="1587.3" cy="619" rx="14.3" ry="10.8" fill="#a91818" stroke="#3a0909" stroke-width="1.5" stroke-dasharray="3.2 0.9"/><path d="M1596.8 614 q4.5 5 -3 12.5" fill="none" stroke="#f2cfcf" stroke-width="1.3" opacity="0.85"/>
<ellipse cx="1653.3" cy="619" rx="14.3" ry="10.8" fill="#a91818" stroke="#3a0909" stroke-width="1.5" stroke-dasharray="3.2 0.9"/><path d="M1662.8 614 q4.5 5 -3 12.5" fill="none" stroke="#f2cfcf" stroke-width="1.3" opacity="0.85"/>
<ellipse cx="1729.3" cy="619" rx="14.3" ry="10.8" fill="#a91818" stroke="#3a0909" stroke-width="1.5" stroke-dasharray="3.2 0.9"/><path d="M1738.8 614 q4.5 5 -3 12.5" fill="none" stroke="#f2cfcf" stroke-width="1.3" opacity="0.85"/>
<ellipse cx="1814.3" cy="619" rx="14.3" ry="10.8" fill="#a91818" stroke="#3a0909" stroke-width="1.5" stroke-dasharray="3.2 0.9"/><path d="M1823.8 614 q4.5 5 -3 12.5" fill="none" stroke="#f2cfcf" stroke-width="1.3" opacity="0.85"/>
<ellipse cx="537.5" cy="302.5" rx="14.3" ry="10.8" fill="#a91818" stroke="#3a0909" stroke-width="1.5" stroke-dasharray="3.2 0.9"/><path d="M547.0 297.5 q4.5 5 -3 12.5" fill="none" stroke="#f2cfcf" stroke-width="1.3" opacity="0.85"/>
<ellipse cx="659.5" cy="535.5" rx="27.7" ry="21.3" fill="#c9a70d"/><text x="659.5" y="548.0" text-anchor="middle" font-family="'Liberation Sans',sans-serif" font-size="35" transform="translate(659.5 0) scale(1.25 1) translate(-659.5 0)" fill="#111">3</text>
<ellipse cx="1055.7" cy="386" rx="27.7" ry="21.3" fill="#c9a70d"/><text x="1055.7" y="398.5" text-anchor="middle" font-family="'Liberation Sans',sans-serif" font-size="35" transform="translate(1055.7 0) scale(1.25 1) translate(-1055.7 0)" fill="#111">4</text>
<ellipse cx="1138" cy="733" rx="27.7" ry="21.3" fill="#c9a70d"/><text x="1138" y="745.5" text-anchor="middle" font-family="'Liberation Sans',sans-serif" font-size="35" transform="translate(1138 0) scale(1.25 1) translate(-1138 0)" fill="#111">2</text>
<ellipse cx="984.3" cy="915.7" rx="27.7" ry="21.3" fill="#0df01c"/><text x="984.3" y="928.2" text-anchor="middle" font-family="'Liberation Sans',sans-serif" font-size="35" transform="translate(984.3 0) scale(1.25 1) translate(-984.3 0)" fill="#111">1</text>
</g>
</svg>
</body>
</html>
